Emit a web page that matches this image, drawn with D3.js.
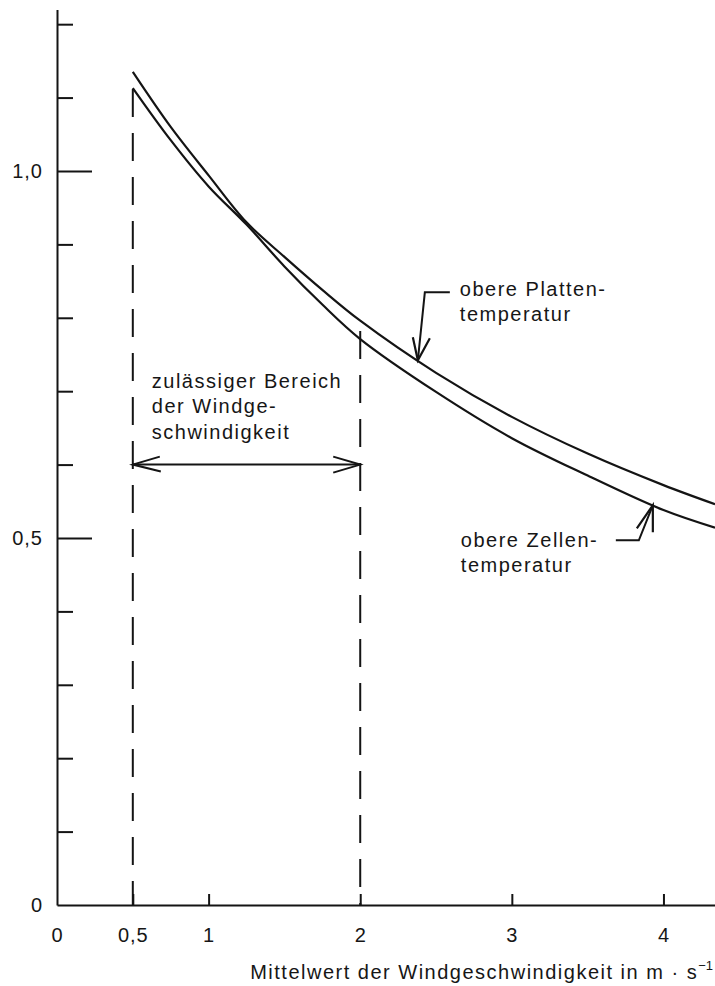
<!DOCTYPE html>
<html>
<head>
<meta charset="utf-8">
<script src="https://cdn.jsdelivr.net/npm/d3@7/dist/d3.min.js"></script>
<style>
  html, body { margin: 0; padding: 0; background: #fff; }
  svg { display: block; }
  text { font-family: "Liberation Sans", Arial, Helvetica, sans-serif; fill: #161616; }
</style>
</head>
<body>
<svg id="chart" width="715" height="986"></svg>
<script>
// ---------------- data ----------------
const windSpeed    = [0.5, 0.75, 1.0, 1.25, 1.5, 1.75, 2.0, 2.5, 3.0, 3.5, 4.0, 4.34];
const plattenTemp  = [1.135, 1.060, 0.994, 0.930, 0.883, 0.838, 0.796, 0.725, 0.665, 0.615, 0.572, 0.546];
const zellenTemp   = [1.113, 1.042, 0.979, 0.927, 0.870, 0.818, 0.771, 0.699, 0.636, 0.585, 0.538, 0.514];

const xTickValues  = [0, 0.5, 1, 2, 3, 4];
const xTickLabels  = ["0", "0,5", "1", "2", "3", "4"];
const yMinorTicks  = [0.1, 0.2, 0.3, 0.4, 0.6, 0.7, 0.8, 0.9, 1.1, 1.2];
const yMajorTicks  = [0.5, 1.0];
const yLabelValues = [0, 0.5, 1.0];
const yTickLabels  = ["0", "0,5", "1,0"];

const rangeLimits  = [0.5, 2.0];      // zulässiger Bereich
const rangeArrowY  = 0.6;
const rangeText    = ["zulässiger Bereich", "der Windge-", "schwindigkeit"];
const plattenText  = ["obere Platten-", "temperatur"];
const zellenText   = ["obere Zellen-", "temperatur"];
const plattenArrowX = 2.38;
const zellenArrowX  = 3.93;
const xTitle = "Mittelwert der Windgeschwindigkeit in m · s";
const xTitleSup = "−1";

// ---------------- layout ----------------
const svg = d3.select("#chart");
const x = d3.scaleLinear().domain([0, 4.34]).range([57, 715]);
const y = d3.scaleLinear().domain([0, 1.22]).range([905, 9.5]);
const ink = "#141414";
const fontSize = 20;
const track = 1.5;

// axes
const gAxes = svg.append("g");
// y axis line + minor ticks
gAxes.append("g").attr("transform", `translate(${x(0)},0)`)
  .call(d3.axisRight(y).tickValues(yMinorTicks).tickSize(16).tickSizeOuter(0).tickFormat(""))
  .call(g => g.selectAll("path,line").attr("stroke", ink).attr("stroke-width", 2));
// major ticks
gAxes.append("g").attr("transform", `translate(${x(0)},0)`)
  .call(d3.axisRight(y).tickValues(yMajorTicks).tickSize(35).tickSizeOuter(0).tickFormat(""))
  .call(g => g.select(".domain").remove())
  .call(g => g.selectAll("line").attr("stroke", ink).attr("stroke-width", 2));
// y labels
gAxes.append("g").attr("transform", `translate(${x(0)},0)`)
  .call(d3.axisLeft(y).tickValues(yLabelValues).tickSize(0).tickPadding(14)
        .tickFormat((d, i) => yTickLabels[i]))
  .call(g => g.select(".domain").remove())
  .call(g => g.selectAll("text").attr("font-size", fontSize).attr("letter-spacing", 1)
        .attr("font-family", null).attr("fill", ink));

// x axis line + ticks (upwards)
gAxes.append("g").attr("transform", `translate(0,${y(0)})`)
  .call(d3.axisTop(x).tickValues(xTickValues.filter(v => v > 0)).tickSize(11).tickSizeOuter(0).tickFormat(""))
  .call(g => g.selectAll("path,line").attr("stroke", ink).attr("stroke-width", 2));
// x labels
gAxes.append("g").attr("transform", `translate(0,${y(0)})`)
  .call(d3.axisBottom(x).tickValues(xTickValues).tickSize(0).tickPadding(23)
        .tickFormat((d, i) => xTickLabels[i]))
  .call(g => g.select(".domain").remove())
  .call(g => g.selectAll("text").attr("font-size", fontSize).attr("letter-spacing", 1)
        .attr("font-family", null).attr("fill", ink));

// x title
const title = svg.append("text")
  .attr("x", 713).attr("y", 979)
  .attr("text-anchor", "end")
  .attr("font-size", fontSize).attr("letter-spacing", track)
  .text(xTitle);
title.append("tspan").attr("font-size", 13).attr("dy", -9).attr("letter-spacing", 0).text(xTitleSup);

// dashed limits
const zAt = d3.scaleLinear().domain(windSpeed).range(zellenTemp);
const pAt = d3.scaleLinear().domain(windSpeed).range(plattenTemp);
svg.append("g").selectAll("line").data(rangeLimits).join("line")
  .attr("x1", d => x(d)).attr("x2", d => x(d))
  .attr("y1", d => y(zAt(d)) - (d === rangeLimits[0] ? -1 : 8))
  .attr("y2", y(0))
  .attr("stroke", ink).attr("stroke-width", 2)
  .attr("stroke-dasharray", "28,16");

// curves
const line = d3.line().x(d => x(d[0])).y(d => y(d[1])).curve(d3.curveCatmullRom.alpha(0.5));
[plattenTemp, zellenTemp].forEach(series => {
  svg.append("path")
    .datum(windSpeed.map((w, i) => [w, series[i]]))
    .attr("d", line)
    .attr("fill", "none").attr("stroke", ink).attr("stroke-width", 2.2)
    .attr("stroke-linejoin", "round");
});

// double arrow for allowed range
const ay = y(rangeArrowY), ax1 = x(rangeLimits[0]), ax2 = x(rangeLimits[1]);
const ga = svg.append("g").attr("stroke", ink).attr("stroke-width", 2).attr("fill", "none");
ga.append("line").attr("x1", ax1).attr("x2", ax2).attr("y1", ay).attr("y2", ay);
ga.append("path").attr("d", `M${ax1 + 27},${ay - 8}L${ax1},${ay}L${ax1 + 28},${ay + 7}`);
ga.append("path").attr("d", `M${ax2 - 27},${ay - 8}L${ax2},${ay}L${ax2 - 27},${ay + 8}`);

// range text
svg.append("g").selectAll("text").data(rangeText).join("text")
  .attr("x", x(rangeLimits[0]) + 19)
  .attr("y", (d, i) => y(rangeArrowY) - 77 + i * 25.5)
  .attr("font-size", fontSize).attr("letter-spacing", track)
  .text(d => d);

// annotation: obere Plattentemperatur
const pT = [x(plattenArrowX), y(pAt(plattenArrowX))];
const gp = svg.append("g").attr("stroke", ink).attr("fill", "none");
gp.append("path").attr("stroke-width", 2)
  .attr("d", `M${pT[0] + 32},${pT[1] - 68}H${pT[0] + 7}L${pT[0]},${pT[1]}`);
gp.append("path").attr("stroke-width", 2.2)
  .attr("d", `M${pT[0] - 5},${pT[1] - 23}L${pT[0]},${pT[1]}L${pT[0] + 12},${pT[1] - 22}`);
svg.append("g").selectAll("text").data(plattenText).join("text")
  .attr("x", pT[0] + 42).attr("y", (d, i) => pT[1] - 64 + i * 24.5)
  .attr("font-size", fontSize).attr("letter-spacing", track)
  .text(d => d);

// annotation: obere Zellentemperatur
const zT = [x(zellenArrowX), y(zAt(zellenArrowX))];
const gz = svg.append("g").attr("stroke", ink).attr("fill", "none");
gz.append("path").attr("stroke-width", 2)
  .attr("d", `M${zT[0] - 37},${zT[1] + 35}H${zT[0] - 14}L${zT[0]},${zT[1]}`);
gz.append("path").attr("stroke-width", 2.2)
  .attr("d", `M${zT[0] - 16},${zT[1] + 23}L${zT[0]},${zT[1]}L${zT[0]},${zT[1] + 27}`);
svg.append("g").selectAll("text").data(zellenText).join("text")
  .attr("x", zT[0] - 192).attr("y", (d, i) => zT[1] + 42 + i * 25)
  .attr("font-size", fontSize).attr("letter-spacing", track)
  .text(d => d);
</script>
</body>
</html>
